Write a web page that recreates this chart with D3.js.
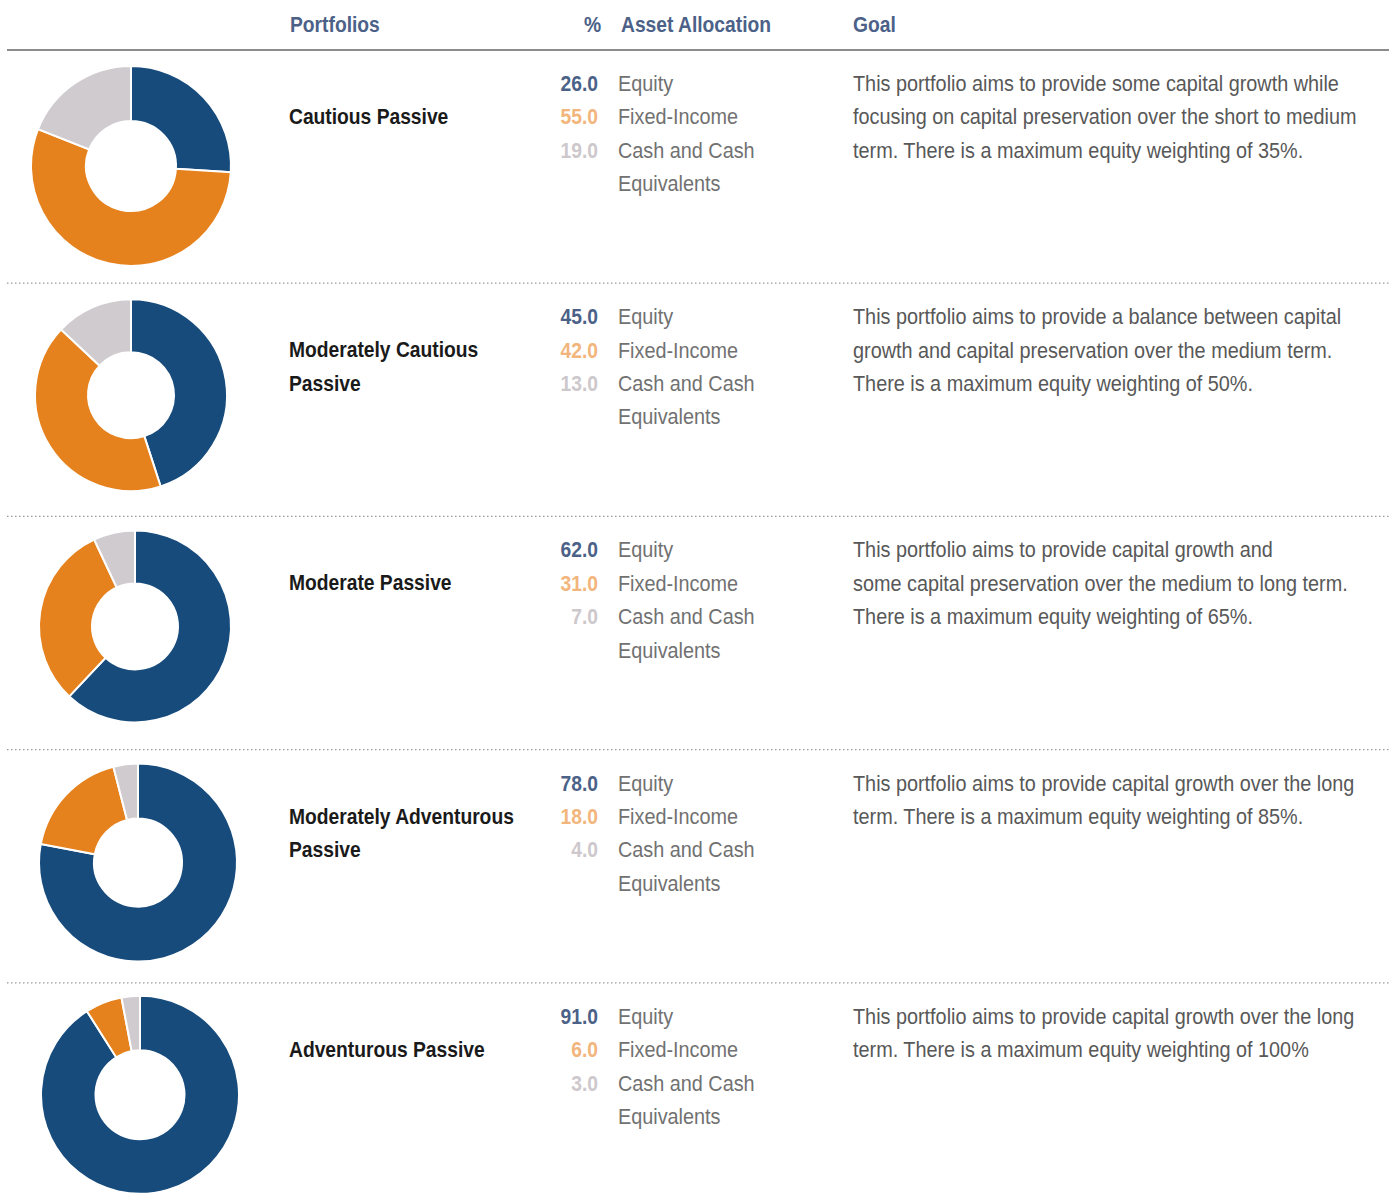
<!DOCTYPE html>
<html><head><meta charset="utf-8">
<script src="https://cdn.jsdelivr.net/npm/d3@7"></script>
<style>
body{margin:0;background:#fff;}
svg text{font-family:"Liberation Sans",Arial,sans-serif;}
</style></head><body>
<svg id="c" width="1395" height="1200"></svg>
<script>
const portfolios = ["Cautious Passive","Moderately Cautious Passive","Moderate Passive","Moderately Adventurous Passive","Adventurous Passive"];
const nameLines = [["Cautious Passive"],["Moderately Cautious","Passive"],["Moderate Passive"],["Moderately Adventurous","Passive"],["Adventurous Passive"]];
const assetClasses = ["Equity","Fixed-Income","Cash and Cash Equivalents"];
const labelLines = ["Equity","Fixed-Income","Cash and Cash","Equivalents"];
const equity = [26.0,45.0,62.0,78.0,91.0];
const fixedIncome = [55.0,42.0,31.0,18.0,6.0];
const cash = [19.0,13.0,7.0,4.0,3.0];
const goals = [
 ["This portfolio aims to provide some capital growth while","focusing on capital preservation over the short to medium","term. There is a maximum equity weighting of 35%."],
 ["This portfolio aims to provide a balance between capital","growth and capital preservation over the medium term.","There is a maximum equity weighting of 50%."],
 ["This portfolio aims to provide capital growth and","some capital preservation over the medium to long term.","There is a maximum equity weighting of 65%."],
 ["This portfolio aims to provide capital growth over the long","term. There is a maximum equity weighting of 85%."],
 ["This portfolio aims to provide capital growth over the long","term. There is a maximum equity weighting of 100%"]
];
const headers = ["Portfolios","%","Asset Allocation","Goal"];

const svg = d3.select("#c");
const fs = 22;

// calibrate a horizontal condensation so the regular fonts mimic the condensed face
function measure(t, weight){
  const n = svg.append("text").attr("font-size",fs).attr("font-weight",weight).text(t);
  const w = n.node().getComputedTextLength(); n.remove(); return w;
}
const sReg = 486 / measure(goals[0][0], "normal");
const sBold = 225 / measure(nameLines[3][0], "bold");

function txt(parent, x, y, t, opts){
  const s = opts.bold ? sBold : sReg;
  return parent.append("g").attr("transform",`translate(${x},${y}) scale(${s},1)`)
    .append("text").attr("font-size",fs).attr("font-weight",opts.bold?"bold":"normal")
    .attr("text-anchor",opts.anchor||"start").attr("fill",opts.fill).text(t);
}

const donutColors = d3.scaleOrdinal().domain(assetClasses).range(["#164b7c","#e5821e","#d0cbcf"]);
const valueColors = d3.scaleOrdinal().domain(assetClasses).range(["#4b6187","#f2b57c","#cdc8cc"]);

const rowY = d3.scaleBand().domain(d3.range(portfolios.length)).range([50,1216]).padding(0);
// per-row donut centres and radii (layout)
const cx = [131,131,135,138,140];
const cy0 = [116,112,110,113,112];
const rOut = [100,96,96,99,99];
const rIn = [45,43,43,44,44.5];

// header
const hc = "#4b6187";
txt(svg,290,32,headers[0],{bold:true,fill:hc});
txt(svg,601,32,headers[1],{bold:true,fill:hc,anchor:"end"});
txt(svg,621,32,headers[2],{bold:true,fill:hc});
txt(svg,853,32,headers[3],{bold:true,fill:hc});
svg.append("line").attr("x1",7).attr("x2",1389).attr("y1",50).attr("y2",50).attr("stroke","#8c8c8c").attr("stroke-width",2);

const pie = d3.pie().sort(null).value(d=>d.v);
const lh = 33.4;
const fmt = d3.format(".1f");

portfolios.forEach((p,i)=>{
  const y0 = rowY(i);
  const g = svg.append("g");
  if(i>0){
    g.append("line").attr("x1",7).attr("x2",1389).attr("y1",y0).attr("y2",y0)
      .attr("stroke","#9a9a9a").attr("stroke-width",1.2).attr("stroke-dasharray","1.5,2.5");
  }
  const vals = [{k:assetClasses[0],v:equity[i]},{k:assetClasses[1],v:fixedIncome[i]},{k:assetClasses[2],v:cash[i]}];
  const arc = d3.arc().innerRadius(rIn[i]).outerRadius(rOut[i]);
  g.append("g").attr("transform",`translate(${cx[i]},${y0+cy0[i]})`)
    .selectAll("path").data(pie(vals)).join("path")
    .attr("d",arc).attr("fill",d=>donutColors(d.data.k)).attr("stroke","#fff").attr("stroke-width",2);

  const base = y0 + 41;
  const nStart = y0 + 74;
  nameLines[i].forEach((t,j)=> txt(g,289,nStart+j*lh,t,{bold:true,fill:"#1a1a1a"}));
  vals.forEach((d,j)=> txt(g,598,base+j*lh,fmt(d.v),{bold:true,fill:valueColors(d.k),anchor:"end"}));
  labelLines.forEach((t,j)=> txt(g,618,base+j*lh,t,{fill:"#717171"}));
  goals[i].forEach((t,j)=> txt(g,853,base+j*lh,t,{fill:"#585858"}));
});
</script></body></html>
